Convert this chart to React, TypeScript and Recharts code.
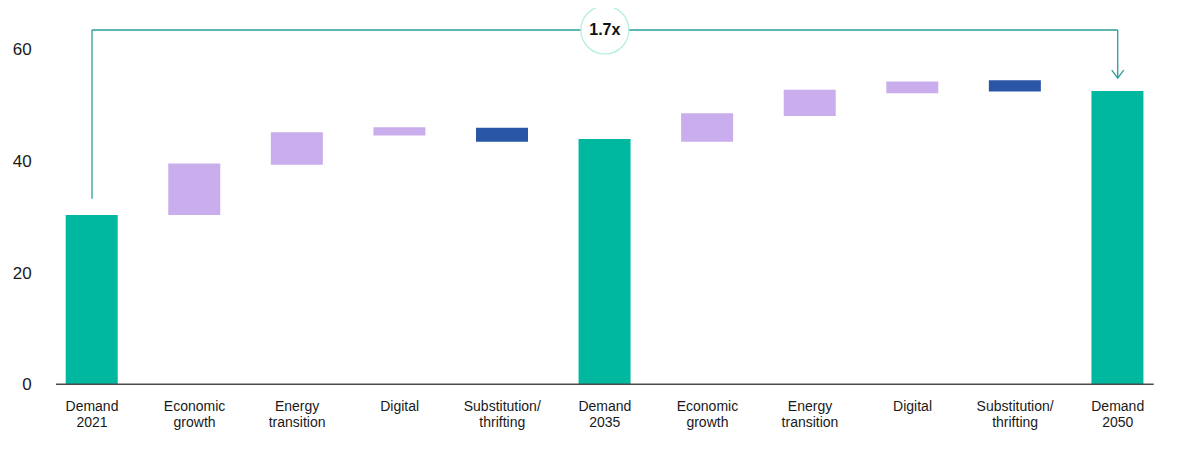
import React from 'react';
import { BarChart, Bar, XAxis, YAxis, Cell, ReferenceLine, ReferenceDot } from 'recharts';

const categories = ['d2021', 'eg1', 'et1', 'dg1', 'st1', 'd2035', 'eg2', 'et2', 'dg2', 'st2', 'd2050'];
const tickLabels: string[][] = [
  ['Demand', '2021'],
  ['Economic', 'growth'],
  ['Energy', 'transition'],
  ['Digital'],
  ['Substitution/', 'thrifting'],
  ['Demand', '2035'],
  ['Economic', 'growth'],
  ['Energy', 'transition'],
  ['Digital'],
  ['Substitution/', 'thrifting'],
  ['Demand', '2050'],
];
const lowValues = [0, 30.3, 39.3, 44.5, 43.4, 0, 43.4, 48.0, 52.1, 52.4, 0];
const highValues = [30.3, 39.5, 45.1, 46.0, 45.9, 43.9, 48.5, 52.7, 54.2, 54.4, 52.5];
const barTypes = ['total', 'inc', 'inc', 'inc', 'dec', 'total', 'inc', 'inc', 'inc', 'dec', 'total'];
const yTicks = [0, 20, 40, 60];

// annotation (bracket) in data units
const bracketStartY = 33.2;
const bracketTopY = 63.4;
const bracketEndY = 54.8;
const multiplierLabel = '1.7x';

const COLORS: Record<string, string> = {
  total: '#00B7A0',
  inc: '#C9ADEC',
  dec: '#2A56A6',
};
const BRACKET = '#2A9D97';

const data = categories.map((c, i) => ({
  key: c,
  range: [lowValues[i], highValues[i]],
  type: barTypes[i],
}));

const labelMap: Record<string, string[]> = {};
categories.forEach((c, i) => (labelMap[c] = tickLabels[i]));

const XTick = (props: any) => {
  const { x, y, payload } = props;
  const lines = labelMap[payload.value] || [];
  return (
    <text x={x} y={y} textAnchor="middle" fontSize={14} fill="#1a1a1a">
      {lines.map((l, i) => (
        <tspan key={i} x={x} y={y + 26.4 + i * 16.7}>
          {l}
        </tspan>
      ))}
    </text>
  );
};

const AxisLineShape = (props: any) => {
  const { x1, x2, y1 } = props;
  return <line x1={x1 + 15.3} x2={x2 - 15.3} y1={y1} y2={y1} stroke="#4a4a4a" strokeWidth={1.6} />;
};

const ArrowLine = (props: any) => {
  const { x1, y1, x2, y2 } = props;
  const tipY = Math.max(y1, y2);
  return (
    <g>
      <line x1={x1} y1={y1} x2={x2} y2={y2} stroke={BRACKET} strokeWidth={1.3} />
      <polyline
        points={`${x2 - 6},${tipY - 8} ${x2},${tipY} ${x2 + 6},${tipY - 8}`}
        fill="none"
        stroke={BRACKET}
        strokeWidth={1.3}
      />
    </g>
  );
};

const BubbleShape = (props: any) => {
  const { cx, cy } = props;
  return (
    <g>
      <circle cx={cx} cy={cy} r={24} fill="#ffffff" stroke="#AEEFD9" strokeWidth={1.2} />
      <text x={cx} y={cy + 5.5} textAnchor="middle" fontSize={16} fontWeight="bold" fill="#111">
        {multiplierLabel}
      </text>
    </g>
  );
};

export default function App() {
  return (
    <div style={{ fontFamily: '"Liberation Sans", Arial, sans-serif' }}>
      <BarChart
        width={1163}
        height={440}
        data={data}
        margin={{ top: 41, right: 2, bottom: 13.7, left: 0 }}
      >
        <XAxis
          dataKey="key"
          axisLine={false}
          tickLine={false}
          tickSize={0}
          tickMargin={0}
          height={50}
          interval={0}
          tick={<XTick />}
        />
        <YAxis
          domain={[0, 60]}
          ticks={yTicks}
          axisLine={false}
          tickLine={false}
          tickSize={0}
          tickMargin={9}
          width={32.7}
          tick={{ fontSize: 17, fill: '#1a1a1a' }}
        />
        <Bar dataKey="range" barSize={52} isAnimationActive={false}>
          {data.map((d, i) => (
            <Cell key={i} fill={COLORS[d.type]} />
          ))}
        </Bar>
        <ReferenceLine y={0} shape={<AxisLineShape />} />
        <ReferenceLine
          segment={[
            { x: 'd2021', y: bracketStartY },
            { x: 'd2021', y: bracketTopY },
          ]}
          stroke={BRACKET}
          strokeWidth={1.3}
          ifOverflow="visible"
        />
        <ReferenceLine
          segment={[
            { x: 'd2021', y: bracketTopY },
            { x: 'd2050', y: bracketTopY },
          ]}
          stroke={BRACKET}
          strokeWidth={1.3}
          ifOverflow="visible"
        />
        <ReferenceLine
          segment={[
            { x: 'd2050', y: bracketTopY },
            { x: 'd2050', y: bracketEndY },
          ]}
          ifOverflow="visible"
          shape={<ArrowLine />}
        />
        <ReferenceDot x="d2035" y={bracketTopY} ifOverflow="visible" shape={<BubbleShape />} />
      </BarChart>
    </div>
  );
}
